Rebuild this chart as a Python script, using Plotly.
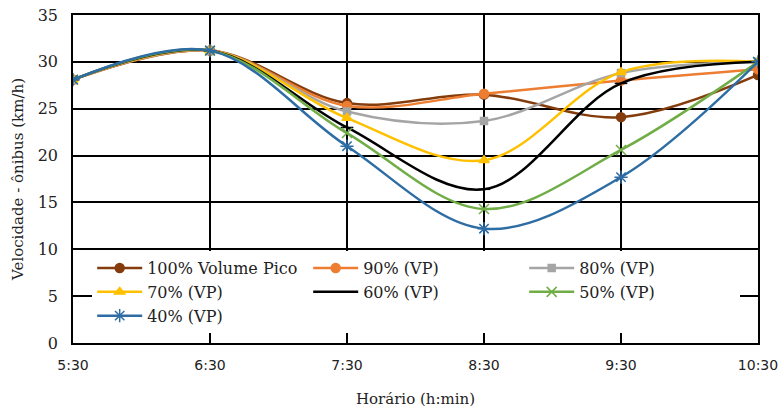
import plotly.graph_objects as go

horarios = ["5:30", "6:30", "7:30", "8:30", "9:30", "10:30"]

v100 = [28.1, 31.2, 25.6, 26.5, 24.1, 28.6]
v90 = [28.1, 31.2, 25.3, 26.6, 28.0, 29.2]
v80 = [28.1, 31.2, 24.7, 23.7, 28.8, 30.0]
v70 = [28.1, 31.2, 24.0, 19.5, 28.9, 30.0]
v60 = [28.1, 31.2, 23.0, 16.4, 27.7, 30.0]
v50 = [28.1, 31.2, 22.4, 14.3, 20.6, 30.0]
v40 = [28.1, 31.2, 21.0, 12.2, 17.7, 30.0]

series = [
    ("100% Volume Pico", v100, "#843C0C", "circle", 9),
    ("90% (VP)", v90, "#ED7D31", "circle", 9),
    ("80% (VP)", v80, "#A5A5A5", "square", 7),
    ("70% (VP)", v70, "#FFC000", "triangle-up", 9),
    ("60% (VP)", v60, "#000000", "line-ew-open", 9),
    ("50% (VP)", v50, "#70AD47", "x-thin-open", 10),
    ("40% (VP)", v40, "#2E6DA4", "asterisk-open", 11),
]

SERIF = "DejaVu Serif"

fig = go.Figure()
for name, vals, color, sym, size in series:
    fig.add_trace(go.Scatter(
        x=horarios, y=vals, mode="lines+markers", name=name,
        line=dict(color=color, width=2.5, shape="spline", smoothing=1),
        marker=dict(symbol=sym, size=size, color=color,
                    line=dict(color=color, width=1.5)),
    ))

fig.update_layout(
    width=784, height=410,
    margin=dict(l=73, r=26, t=15, b=67),
    paper_bgcolor="white", plot_bgcolor="white",
    font=dict(family=SERIF, size=15, color="#222"),
    legend=dict(
        orientation="h", x=0.028, y=0.28, xanchor="left", yanchor="top",
        bgcolor="white", entrywidth=156, entrywidthmode="pixels",
        font=dict(family=SERIF, size=16, color="#222"),
        itemwidth=45, tracegroupgap=0,
    ),
    xaxis=dict(
        type="category", range=[0, 5], automargin=False,
        showgrid=True, gridcolor="black", gridwidth=1.5,
        showline=True, linecolor="black", linewidth=1.5, mirror=True,
        ticks="", ticklabelstandoff=8,
        tickfont=dict(family="DejaVu Sans", size=14, color="#222"),
        title=dict(text="Horário (h:min)", standoff=22,
                   font=dict(family=SERIF, size=15)),
    ),
    yaxis=dict(
        range=[0, 35], dtick=5, automargin=False, ticklabeloverflow="allow",
        showgrid=True, gridcolor="black", gridwidth=1.5,
        showline=True, linecolor="black", linewidth=1.5, mirror=True,
        ticks="", zeroline=False, ticklabelstandoff=10,
        tickfont=dict(family=SERIF, size=16, color="#222"),
        title=dict(text="Velocidade - ônibus (km/h)", standoff=10,
                   font=dict(family=SERIF, size=15)),
    ),
)

fig.write_html("out.html", config={"displayModeBar": False},
               post_script="document.body.style.margin='0';")
